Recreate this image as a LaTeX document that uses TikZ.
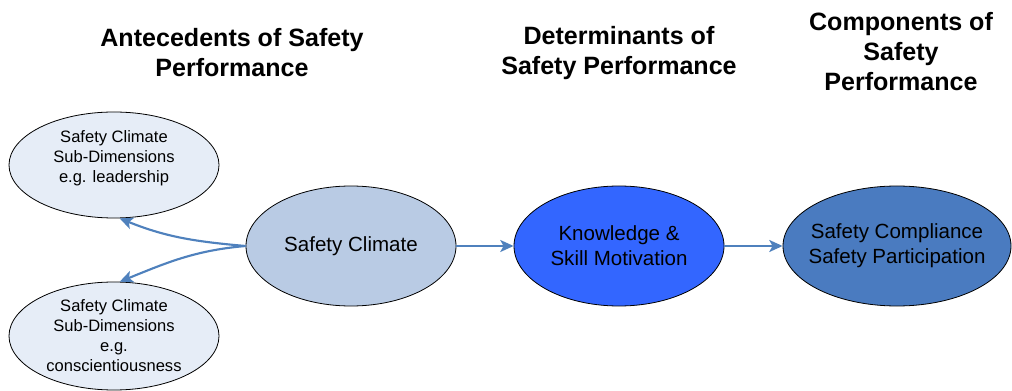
\documentclass[tikz,border=0pt]{standalone}
\usepackage{fontspec}
\setmainfont{Liberation Sans}
\usetikzlibrary{shapes.geometric,arrows.meta}
\definecolor{lineblue}{HTML}{4F81BD}
\definecolor{palefill}{HTML}{E6EDF7}
\definecolor{scfill}{HTML}{B9CBE4}
\definecolor{kfill}{HTML}{3366FF}
\definecolor{cfill}{HTML}{4A7BC0}
\tikzset{
  oval/.style={ellipse, draw=black, line width=0.6pt, inner sep=0pt, align=center},
  small/.style={oval, fill=palefill, minimum width=157.5pt, minimum height=79.5pt,
    font=\fontsize{12.4}{15}\selectfont},
  big/.style={oval, minimum width=157.5pt, minimum height=90pt,
    font=\fontsize{15.4}{18.75}\selectfont},
  heading/.style={align=center, font=\fontsize{18.8}{22.5}\selectfont\bfseries},
  conn/.style={draw=lineblue, line width=1.6pt, -{Stealth[length=10pt,width=9pt,inset=2.5pt]}}
}
\begin{document}
\begin{tikzpicture}[x=0.75pt,y=-0.75pt]
\useasboundingbox (0,0) rectangle (1012,391);
\node[heading] (h1) at (232,53) {Antecedents of Safety\\Performance};
\node[heading] (h2) at (619,53) {Determinants of\\Safety Performance};
\node[heading] (h3) at (901,52) {Components of\\Safety\\Performance};

\node[small, text depth=12pt] (sd1) at (114,165) {Safety Climate\\Sub-Dimensions\\e.g. leadership};
\node[small, minimum height=81pt] (sd2) at (114,336) {Safety Climate\\Sub-Dimensions\\e.g.\\conscientiousness};
\node[big, fill=scfill] (sc) at (351,246) {Safety Climate};
\node[big, fill=kfill] (kn) at (619,246) {Knowledge \&\\Skill Motivation};
\node[big, fill=cfill, minimum width=171pt, inner xsep=-14pt] (co) at (897,246) {Safety Compliance\\Safety Participation};

\draw[conn] (sc.west) to[out=175,in=-22] (sd1.-84);
\draw[conn] (sc.west) to[out=185,in=22] (sd2.84);
\draw[conn] (sc.east) -- (kn.west);
\draw[conn] (kn.east) -- (co.west);
\end{tikzpicture}
\end{document}
